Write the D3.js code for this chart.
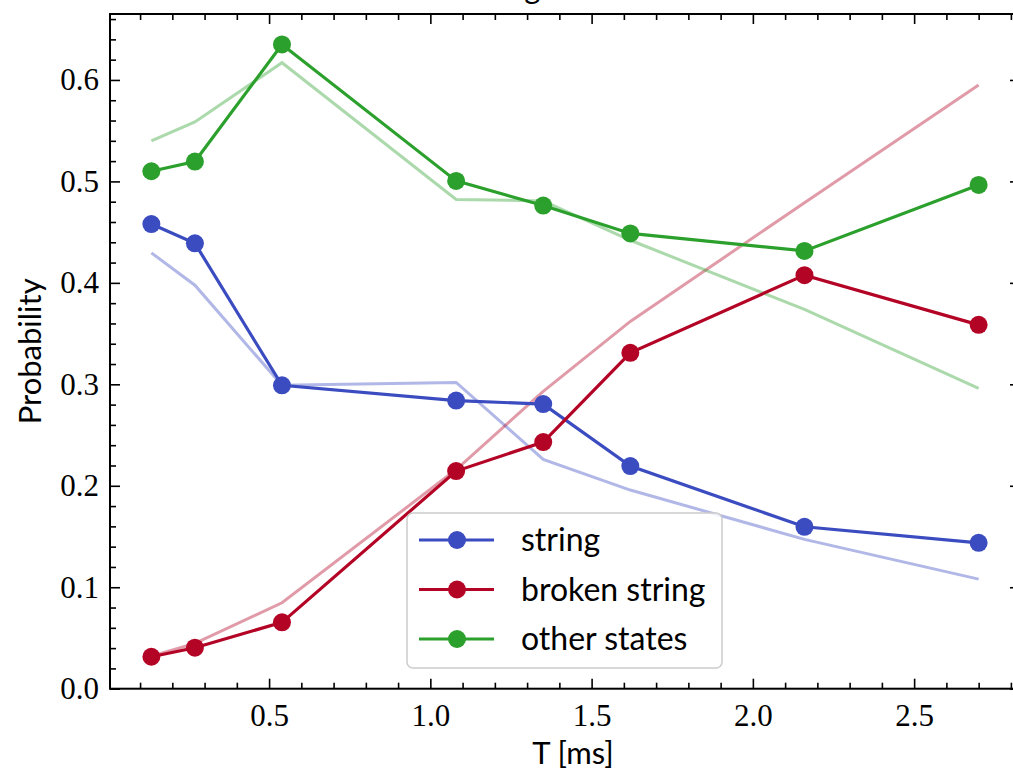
<!DOCTYPE html>
<html>
<head>
<meta charset="utf-8">
<script src="https://cdn.jsdelivr.net/npm/d3@7"></script>
<style>
  body { margin: 0; background: #fff; }
  svg { display: block; }
  .tick-label { font-family: "Liberation Serif", "DejaVu Serif", serif; font-size: 31px; fill: #000; }
  .axis-title { font-family: "Lato", "Liberation Sans", sans-serif; font-size: 31px; fill: #000; }
  .legend-text { font-family: "Lato", "Liberation Sans", sans-serif; font-size: 32px; fill: #000; }
</style>
</head>
<body>
<svg id="chart" width="1013" height="777"></svg>
<script>
// Evolution time in ms
const times = [0.135, 0.27, 0.54, 1.08, 1.35, 1.62, 2.16, 2.70];

// Measured probabilities (markers)
const stringMeasured = [0.458, 0.439, 0.299, 0.284, 0.2805, 0.2194, 0.1596, 0.1438];
const brokenMeasured = [0.0315, 0.0404, 0.0654, 0.2145, 0.2431, 0.3310, 0.4076, 0.3586];
const otherMeasured  = [0.510, 0.5196, 0.635, 0.5005, 0.4762, 0.4487, 0.4315, 0.4965];

// Simulated probabilities (faint lines)
const stringSim = [0.4296, 0.3977, 0.2990, 0.3019, 0.2260, 0.1958, 0.1472, 0.1080];
const brokenSim = [0.0320, 0.0447, 0.0847, 0.2160, 0.2930, 0.3620, 0.4790, 0.5950];
const otherSim  = [0.5400, 0.5586, 0.6170, 0.4822, 0.4808, 0.4420, 0.3738, 0.2960];

const seriesNames = ["string", "broken string", "other states"];
const seriesColors = ["#3b4cc0", "#b40426", "#2ca02c"];

const xTicks = [0.5, 1.0, 1.5, 2.0, 2.5];
const yTicks = [0.0, 0.1, 0.2, 0.3, 0.4, 0.5, 0.6];

const titleText = "String evolution";
const xLabel = "T [ms]";
const yLabel = "Probability";

const svg = d3.select("#chart");
const plot = { left: 110, right: 1020, top: 14, bottom: 688.7 };

const x = d3.scaleLinear().domain([0.00675, 2.82825]).range([plot.left, plot.right]);
const y = d3.scaleLinear().domain([0, 0.665]).range([plot.bottom, plot.top]);

// title, sitting above the frame
svg.append("text")
  .attr("class", "axis-title")
  .attr("x", 461).attr("y", -1)
  .attr("text-anchor", "start")
  .text(titleText);

// faint simulated curves first, measured on top
const line = d3.line().x(d => x(d[0])).y(d => y(d[1]));
const sims = [stringSim, brokenSim, otherSim];
const meas = [stringMeasured, brokenMeasured, otherMeasured];

sims.forEach((vals, i) => {
  svg.append("path")
    .datum(times.map((t, j) => [t, vals[j]]))
    .attr("d", line)
    .attr("fill", "none")
    .attr("stroke", seriesColors[i])
    .attr("stroke-opacity", 0.4)
    .attr("stroke-width", 3);
});

meas.forEach((vals, i) => {
  const pts = times.map((t, j) => [t, vals[j]]);
  svg.append("path")
    .datum(pts)
    .attr("d", line)
    .attr("fill", "none")
    .attr("stroke", seriesColors[i])
    .attr("stroke-width", 3.2);
  svg.append("g").selectAll("circle")
    .data(pts).join("circle")
    .attr("cx", d => x(d[0]))
    .attr("cy", d => y(d[1]))
    .attr("r", 9)
    .attr("fill", seriesColors[i]);
});

// axes with inward ticks on all four sides
const majorLen = 10, minorLen = 6;
const xMinor = d3.range(0.1, 2.81, 0.1).filter(v => Math.abs(v * 2 - Math.round(v * 2)) > 1e-6);
const yMinor = d3.range(0.02, 0.661, 0.02).filter(v => Math.abs(v * 10 - Math.round(v * 10)) > 1e-6);

const axG = svg.append("g");
// bottom
axG.append("g").attr("transform", `translate(0,${plot.bottom})`)
  .call(d3.axisBottom(x).tickValues(xTicks).tickSizeInner(-majorLen).tickSizeOuter(0).tickPadding(15).tickFormat(d3.format(".1f")))
  .call(g => g.selectAll("text").attr("class", "tick-label").attr("font-size", null).attr("font-family", null).attr("dy", "0.71em"));
axG.append("g").attr("transform", `translate(0,${plot.bottom})`)
  .call(d3.axisBottom(x).tickValues(xMinor).tickSizeInner(-minorLen).tickSizeOuter(0).tickFormat(""));
// top
axG.append("g").attr("transform", `translate(0,${plot.top})`)
  .call(d3.axisTop(x).tickValues(xTicks).tickSizeInner(-majorLen).tickSizeOuter(0).tickFormat(""));
axG.append("g").attr("transform", `translate(0,${plot.top})`)
  .call(d3.axisTop(x).tickValues(xMinor).tickSizeInner(-minorLen).tickSizeOuter(0).tickFormat(""));
// left
axG.append("g").attr("transform", `translate(${plot.left},0)`)
  .call(d3.axisLeft(y).tickValues(yTicks).tickSizeInner(-majorLen).tickSizeOuter(0).tickPadding(11).tickFormat(d3.format(".1f")))
  .call(g => g.selectAll("text").attr("class", "tick-label").attr("font-size", null).attr("font-family", null));
axG.append("g").attr("transform", `translate(${plot.left},0)`)
  .call(d3.axisLeft(y).tickValues(yMinor).tickSizeInner(-minorLen).tickSizeOuter(0).tickFormat(""));
// right
axG.append("g").attr("transform", `translate(${plot.right},0)`)
  .call(d3.axisRight(y).tickValues(yTicks).tickSizeInner(-majorLen).tickSizeOuter(0).tickFormat(""));
axG.append("g").attr("transform", `translate(${plot.right},0)`)
  .call(d3.axisRight(y).tickValues(yMinor).tickSizeInner(-minorLen).tickSizeOuter(0).tickFormat(""));

axG.selectAll(".domain").remove();
axG.selectAll(".tick line").attr("stroke", "#000").attr("stroke-width", 1.6);

// frame
svg.append("rect")
  .attr("x", plot.left).attr("y", plot.top)
  .attr("width", plot.right - plot.left).attr("height", plot.bottom - plot.top)
  .attr("fill", "none").attr("stroke", "#000").attr("stroke-width", 2);

// axis titles
svg.append("text").attr("class", "axis-title")
  .attr("x", (plot.left + plot.right) / 2 + 8).attr("y", 764)
  .attr("text-anchor", "middle").text(xLabel);
svg.append("text").attr("class", "axis-title")
  .attr("transform", `translate(41,${(plot.top + plot.bottom) / 2}) rotate(-90)`)
  .attr("text-anchor", "middle").text(yLabel);

// legend
const leg = svg.append("g").attr("transform", "translate(407,513)");
leg.append("rect")
  .attr("width", 315).attr("height", 155).attr("rx", 6)
  .attr("fill", "#fff").attr("fill-opacity", 0.8)
  .attr("stroke", "#cccccc").attr("stroke-width", 1.5);
seriesNames.forEach((name, i) => {
  const cy = 27 + i * 49.5;
  leg.append("line").attr("x1", 12).attr("x2", 87).attr("y1", cy).attr("y2", cy)
    .attr("stroke", seriesColors[i]).attr("stroke-width", 3.2);
  leg.append("circle").attr("cx", 50).attr("cy", cy).attr("r", 9).attr("fill", seriesColors[i]);
  leg.append("text").attr("class", "legend-text")
    .attr("x", 114).attr("y", cy).attr("dy", "0.35em").text(name);
});
</script>
</body>
</html>
